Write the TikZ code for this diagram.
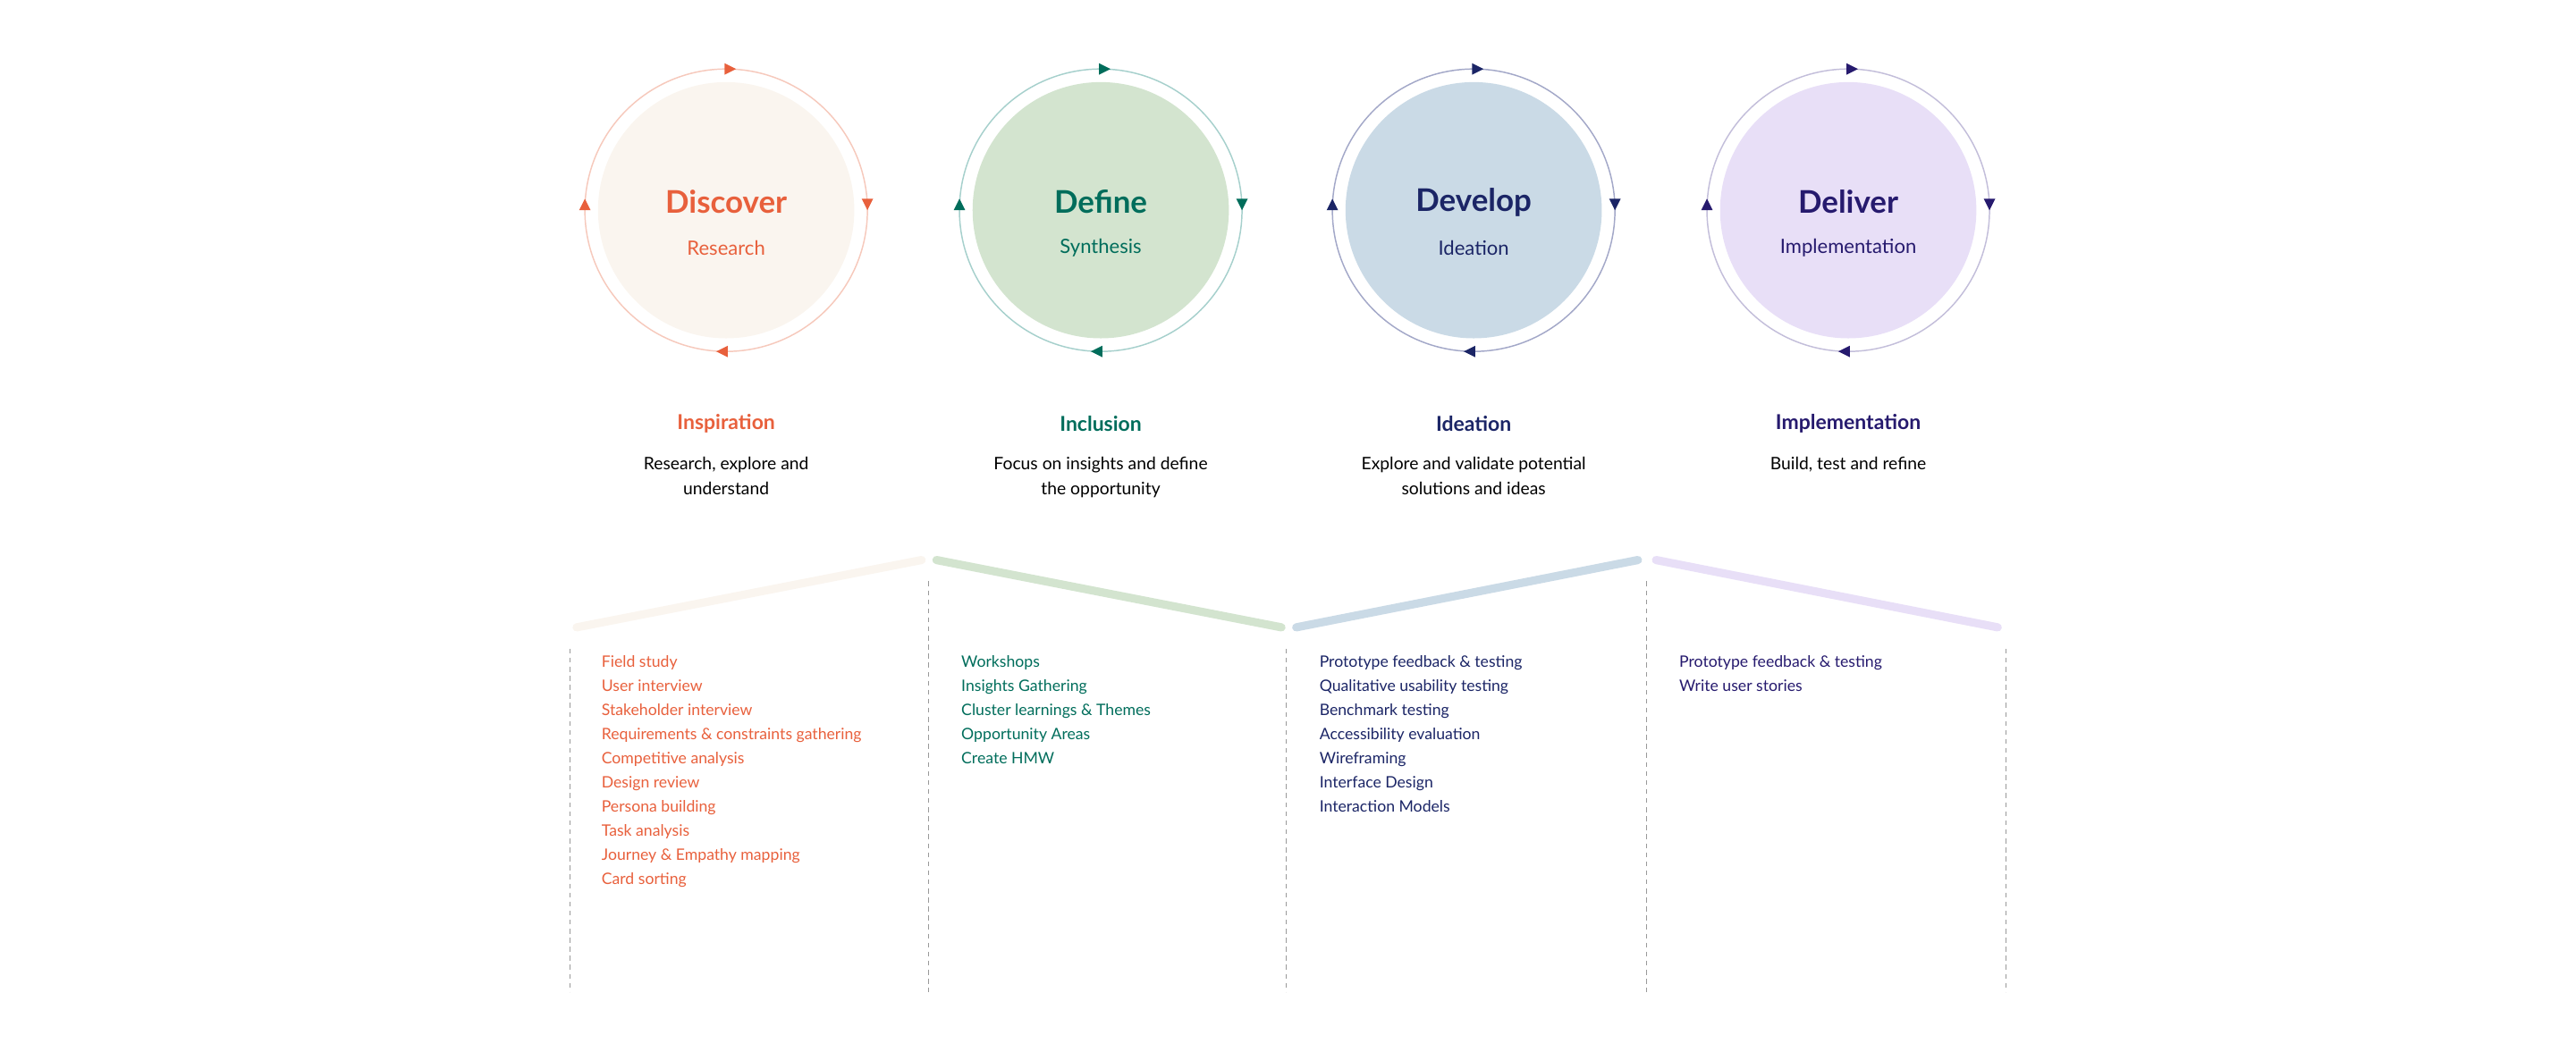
\documentclass[tikz,border=0pt]{standalone}
\usepackage{fontspec}
\setmainfont{Lato}
\begin{document}
\begin{tikzpicture}[x=1pt,y=-1pt,
 title/.style={font=\bfseries\fontsize{19}{22}\selectfont},
 sub/.style={font=\fontsize{12}{14}\selectfont},
 head/.style={font=\bfseries\fontsize{12.5}{15}\selectfont},
 desc/.style={font=\fontsize{10.5}{15}\selectfont,align=center,anchor=north},
 item/.style={font=\fontsize{9.6}{14.7}\selectfont,align=left,anchor=north west,inner sep=0},
 zz/.style={line width=5pt,line cap=round},
 gdash/.style={gray!80,dash pattern=on 3pt off 2.5pt,line width=0.6pt}]
\definecolor{cA}{HTML}{E8603C}\definecolor{fA}{HTML}{FAF5EF}\definecolor{rA}{HTML}{F6C9BC}
\definecolor{cB}{HTML}{006D5B}\definecolor{fB}{HTML}{D3E4CF}\definecolor{rB}{HTML}{A6D0CC}
\definecolor{cC}{HTML}{1B2566}\definecolor{fC}{HTML}{CADAE6}\definecolor{rC}{HTML}{A3A8C8}
\definecolor{cD}{HTML}{261A6E}\definecolor{fD}{HTML}{E8DFF7}\definecolor{rD}{HTML}{C3BEDA}
\useasboundingbox (0,0) rectangle (1568,640.5);
\foreach \cx/\c/\f/\r/\t/\s/\n in {442/cA/fA/rA/Discover/Research/a,670/cB/fB/rB/Define/Synthesis/b,897/cC/fC/rC/Develop/Ideation/c,1125/cD/fD/rD/Deliver/Implementation/d}{
 \fill[\f] (\cx,128) circle (78);
 \draw[\r,line width=0.8pt] (\cx,128) circle (86);
 \node[title,text=\c] (t\n) at (\cx,123) {\t};
 \node[sub,text=\c] (s\n) at (\cx,151) {\s};
 \fill[\c] (\cx+6,42)--(\cx-1,38.5)--(\cx-1,45.5)--cycle;
 \fill[\c] (\cx-6,214)--(\cx+1,210.5)--(\cx+1,217.5)--cycle;
 \fill[\c] (\cx+86,128)--(\cx+82.5,121)--(\cx+89.5,121)--cycle;
 \fill[\c] (\cx-86,121)--(\cx-82.5,128)--(\cx-89.5,128)--cycle;
}
\node[head,text=cA] (ha) at (442,258) {Inspiration};
\node[head,text=cB] (hb) at (670,258) {Inclusion};
\node[head,text=cC] (hc) at (897,258) {Ideation};
\node[head,text=cD] (hd) at (1125,258) {Implementation};
\node[desc] (da) at (442,275) {Research, explore and\\understand};
\node[desc] (db) at (670,275) {Focus on insights and define\\the opportunity};
\node[desc] (dc) at (897,275) {Explore and validate potential\\solutions and ideas};
\node[desc] (dd) at (1125,275) {Build, test and refine};
\draw[zz,fA] (351,382)--(561,341);
\draw[zz,fB] (570,341)--(780,382);
\draw[zz,fC] (789,382)--(997,341);
\draw[zz,fD] (1008,341)--(1216,382);
\draw[gdash] (347,395)--(347,604);
\draw[gdash] (565,354)--(565,604);
\draw[gdash] (783,395)--(783,604);
\draw[gdash] (1002,354)--(1002,604);
\draw[gdash] (1221,395)--(1221,604);
\node[item,text=cA] (la) at (366,399) {Field study\\User interview\\Stakeholder interview\\Requirements \& constraints gathering\\Competitive analysis\\Design review\\Persona building\\Task analysis\\Journey \& Empathy mapping\\Card sorting};
\node[item,text=cB] (lb) at (585,399) {Workshops\\Insights Gathering\\Cluster learnings \& Themes\\Opportunity Areas\\Create HMW};
\node[item,text=cC] (lc) at (803,399) {Prototype feedback \& testing\\Qualitative usability testing\\Benchmark testing\\Accessibility evaluation\\Wireframing\\Interface Design\\Interaction Models};
\node[item,text=cD] (ld) at (1022,399) {Prototype feedback \& testing\\Write user stories};
\end{tikzpicture}
\end{document}
